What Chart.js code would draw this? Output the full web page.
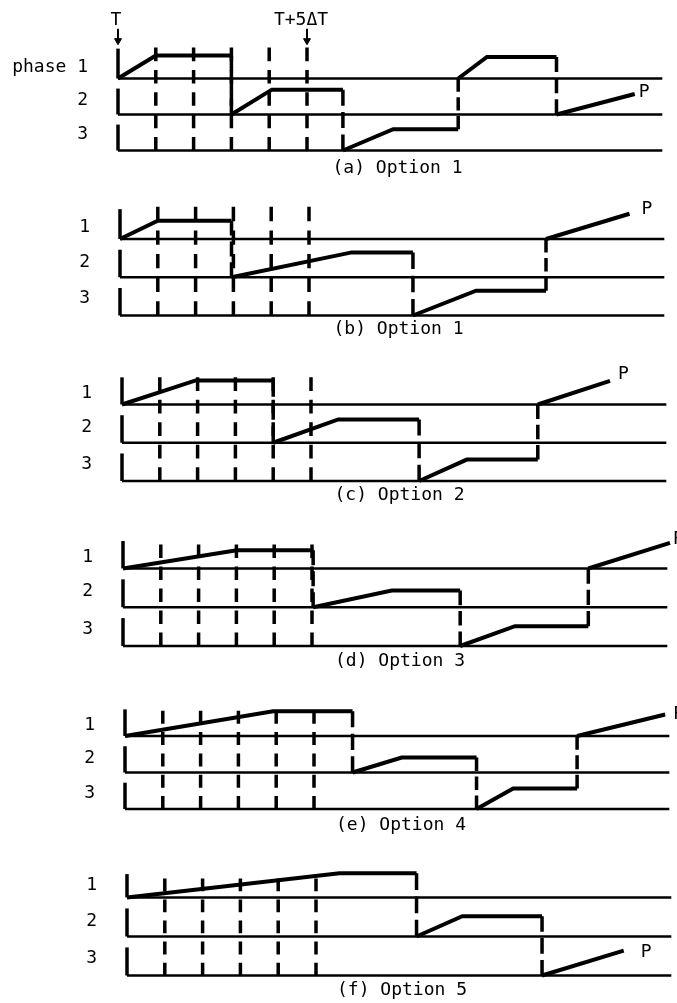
<!doctype html>
<html lang="en">
  <head>
    <meta charset="utf-8">
    <title>Phase schedules, options 1 to 5</title>
    <style>
      * {
        margin: 0;
        padding: 0;
      }
      body {
        width: 677px;
        height: 1003px;
        background: #fff;
        position: relative;
        overflow: hidden;
      }
      canvas {
        position: absolute;
        left: 0;
      }
    </style>
  </head>
  <body>
    <script src="https://cdn.jsdelivr.net/npm/chart.js"></script>
    <script>
// ---- data ----
// x: time in units of dT after T,  y: phase baselines (phase 1 = 3, phase 2 = 2, phase 3 = 1)
const captions = ['(a) Option 1', '(b) Option 1', '(c) Option 2', '(d) Option 3', '(e) Option 4', '(f) Option 5'];
const phaseNames = [
  ['phase 1', '2', '3'],
  ['1', '2', '3'],
  ['1', '2', '3'],
  ['1', '2', '3'],
  ['1', '2', '3'],
  ['1', '2', '3']
];
const phaseBase = [3, 2, 1];
const phaseLabelAt = [3.3, 2.4, 1.44];
const stepTimes = [1, 2, 3, 4, 5];
const stepTop = [0.86, 0.84, 0.71, 0.62, 0.69, 0.49];   // how far the dT marks reach above phase 1
const edgeTop = [0.83, 0.78, 0.71, 0.71, 0.73, 0.6];    // height of the left edge in the phase 1 band
const edgeLower = 0.72;                                 // same, phase 2 and 3 bands
const lineEnd = 14.4;

// runs: [phase, start, end of ramp, end of plateau (null = last run, ends at P), rise]
const runsA = [
  [1, 0, 1, 3, 0.64],
  [2, 3, 4.07, 5.95, 0.69],
  [3, 5.95, 7.28, 9.0, 0.59],
  [1, 9.0, 9.76, 11.6, 0.6],
  [2, 11.6, 13.67, null, 0.57]
];
const runsB = [
  [1, 0, 1, 2.95, 0.48],
  [2, 2.95, 6.13, 7.75, 0.65],
  [3, 7.75, 9.42, 11.27, 0.65],
  [1, 11.27, 13.48, null, 0.66]
];
const runsC = [
  [1, 0, 1.95, 4.0, 0.63],
  [2, 4.0, 5.72, 7.86, 0.61],
  [3, 7.86, 9.12, 11.0, 0.56],
  [1, 11.0, 12.91, null, 0.62]
];
const runsD = [
  [1, 0, 3.01, 5.03, 0.47],
  [2, 5.03, 7.11, 8.92, 0.43],
  [3, 8.92, 10.37, 12.31, 0.51],
  [1, 12.31, 14.47, null, 0.66]
];
const runsE = [
  [1, 0, 3.92, 6.02, 0.68],
  [2, 6.02, 7.32, 9.3, 0.41],
  [3, 9.3, 10.27, 11.96, 0.56],
  [1, 11.96, 14.29, null, 0.59]
];
const runsF = [
  [1, 0, 5.62, 7.66, 0.62],
  [2, 7.66, 8.87, 10.98, 0.52],
  [3, 10.98, 13.14, null, 0.64]
];
const runs = [runsA, runsB, runsC, runsD, runsE, runsF];

// arrows above panel (a)
const markerTimes = [0, 5];
const markerLabels = ['T', 'T+5\u0394T'];
const markerFrom = 4.38;
const markerTo = 4.05;
const markerText = 4.62;

// ---- layout (pixels) ----
const panelLeft = [118, 120, 122, 123, 125, 127];
const panelTop = [78.5, 239, 404.5, 568.5, 736, 897.5];      // phase 1 baseline
const panelBottom = [150.5, 315.5, 481, 646, 809, 975.5];    // phase 3 baseline
const captionY = [168, 329, 495, 661, 825, 990];
const headroom = [60, 6, 6, 6, 6, 6];
const pOffset = [[4, -2], [12, -4], [8, -6], [3, -4], [8, 0], [17, 2]];
const unitPx = 37.8;
const yMin = 0.7;
const yMax = 4;
const FONT = '"DejaVu Sans Mono", monospace';

Chart.defaults.font.family = FONT;
Chart.defaults.font.size = 18;
Chart.defaults.color = '#000';

function seg(points, width, dash) {
  return {
    data: points.map(([x, y]) => ({ x, y })),
    showLine: true,
    borderColor: '#000',
    borderWidth: width,
    borderDash: dash || [],
    pointRadius: 0,
    clip: false
  };
}

// stretch a dash pattern so a line of len px starts and ends on a dash
function fitDash(len, dash, gap) {
  const n = Math.max(1, Math.round((len - dash) / (dash + gap)));
  const d = len / (n * (1 + gap / dash) + 1);
  return [d, d * gap / dash];
}

function noPadding(sc) {
  sc.paddingTop = 0;
  sc.paddingBottom = 0;
  sc.paddingLeft = 0;
  sc.paddingRight = 0;
}

// text labels: P at the end of each schedule, T markers on panel (a)
const textLabels = {
  id: 'textLabels',
  afterDatasetsDraw(chart, args, opts) {
    const { ctx, scales: { x, y } } = chart;
    const i = opts.panel;
    const last = runs[i][runs[i].length - 1];
    ctx.save();
    ctx.font = '18px ' + FONT;
    ctx.fillStyle = '#000';
    ctx.textBaseline = 'middle';
    ctx.textAlign = 'left';
    ctx.fillText('P',
      x.getPixelForValue(last[2]) + pOffset[i][0],
      y.getPixelForValue(phaseBase[last[0] - 1] + last[4]) + pOffset[i][1]);
    if (i === 0) {
      ctx.textAlign = 'center';
      markerTimes.forEach((t, k) => {
        ctx.fillText(markerLabels[k], x.getPixelForValue(t) - (k ? 6 : 2), y.getPixelForValue(markerText));
      });
    }
    ctx.restore();
  }
};

captions.forEach((caption, i) => {
  const s = (panelBottom[i] - panelTop[i]) / 2;
  const areaTop = panelTop[i] - (yMax - 3) * s;
  const areaBottom = panelBottom[i] + (1 - yMin) * s;
  const top = Math.max(0, Math.floor(areaTop - headroom[i]));
  const bottom = Math.ceil(captionY[i] + 10.8);
  const axisH = bottom - areaBottom;
  const left = panelLeft[i];

  const canvas = document.createElement('canvas');
  canvas.width = 677;
  canvas.height = bottom - top;
  canvas.style.top = top + 'px';
  document.body.appendChild(canvas);

  const datasets = [];
  phaseBase.forEach(b => datasets.push(seg([[0, b], [lineEnd, b]], 2.5)));
  phaseBase.forEach((b, k) => datasets.push(seg([[0, b], [0, b + (k ? edgeLower : edgeTop[i])]], 3.5)));
  const stepDash = fitDash((phaseBase[0] + stepTop[i] - phaseBase[2]) * s, 14, 9);
  stepTimes.forEach(t => datasets.push(seg([[t, phaseBase[2]], [t, phaseBase[0] + stepTop[i]]], 3.5, stepDash)));
  runs[i].forEach(([ph, x0, x1, x2, rise], k) => {
    const b = phaseBase[ph - 1];
    const pts = [[x0, b], [x1, b + rise]];
    if (x2 !== null) pts.push([x2, b + rise]);
    datasets.push(seg(pts, 4));
    const next = runs[i][k + 1];
    if (next && x2 !== null) {
      const nb = phaseBase[next[0] - 1];
      datasets.push(seg([[x2, b + rise], [next[1], nb]], 3.5, fitDash(Math.abs(b + rise - nb) * s, 15, 6)));
    }
  });
  if (i === 0) {
    markerTimes.forEach(t => {
      const d = seg([[t, markerFrom], [t, markerTo]], 2);
      d.pointRadius = [0, 4];
      d.pointStyle = 'triangle';
      d.pointRotation = 180;
      d.pointBackgroundColor = '#000';
      d.pointBorderColor = '#000';
      d.pointBorderWidth = 1;
      datasets.push(d);
    });
  }

  new Chart(canvas, {
    type: 'scatter',
    data: { datasets },
    options: {
      responsive: false,
      animation: false,
      events: [],
      layout: { autoPadding: false, padding: { top: areaTop - top, left: 0, right: 0, bottom: 0 } },
      scales: {
        x: {
          type: 'linear',
          min: 0,
          max: (677 - left) / unitPx,
          ticks: { display: false },
          grid: { display: false, drawTicks: false },
          border: { display: false },
          title: { display: true, text: caption, padding: { top: 0, bottom: 0 }, font: { size: 18 } },
          afterFit: sc => { sc.height = axisH; noPadding(sc); }
        },
        y: {
          type: 'linear',
          min: yMin,
          max: yMax,
          afterBuildTicks: sc => { sc.ticks = phaseLabelAt.map(v => ({ value: v })); },
          ticks: {
            autoSkip: false,
            padding: 30,
            font: { size: 18 },
            callback: (v, k) => phaseNames[i][k]
          },
          grid: { display: false, drawTicks: false },
          border: { display: false },
          afterFit: sc => { sc.width = left; noPadding(sc); }
        }
      },
      plugins: {
        legend: { display: false },
        tooltip: { enabled: false },
        textLabels: { panel: i }
      }
    },
    plugins: [textLabels]
  });
});
    </script>
  </body>
</html>
